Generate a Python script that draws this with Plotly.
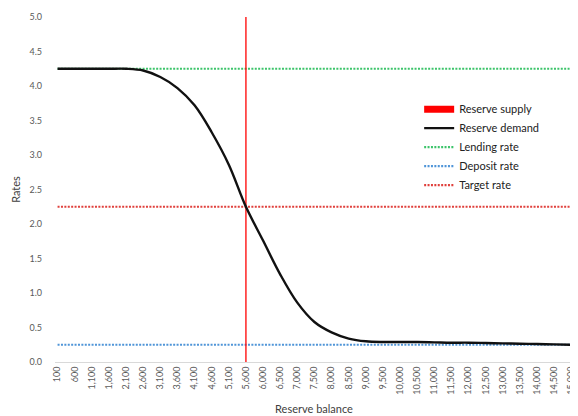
import plotly.graph_objects as go

# ---- data ----
balances = [100, 600, 1100, 1600, 2100, 2600, 3100, 3600, 4100, 4600, 5100, 5600,
            6000, 6500, 7000, 7500, 8000, 8500, 9000, 9500, 10000, 10500, 11000,
            11500, 12000, 12500, 13000, 13500, 14000, 14500, 15000]
demand = [4.25, 4.25, 4.25, 4.25, 4.25, 4.225, 4.13, 3.97, 3.72, 3.33, 2.86, 2.25,
          1.76, 1.27, 0.86, 0.58, 0.43, 0.34, 0.30, 0.29, 0.29, 0.29, 0.285,
          0.28, 0.28, 0.275, 0.27, 0.265, 0.26, 0.255, 0.25]
supply_balance = 5600
lending_rate = 4.25
deposit_rate = 0.25
target_rate = 2.25
rate_max = 5.0
y_ticks = [0.0, 0.5, 1.0, 1.5, 2.0, 2.5, 3.0, 3.5, 4.0, 4.5, 5.0]

cats = [f"{b:,}" for b in balances]
supply_cat = f"{supply_balance:,}"

FONT = "Lato"
TXT = "#404040"
TICK = "#595959"

fig = go.Figure()

dotdash = "2px,1.4px"
for name, val, col, rank in [("Lending rate", lending_rate, "#3cc46a", 3),
                             ("Deposit rate", deposit_rate, "#4f95d8", 4),
                             ("Target rate", target_rate, "#e0403c", 5)]:
    fig.add_trace(go.Scatter(x=[cats[0], cats[-1]], y=[val, val], mode="lines",
                             name=name, legendrank=rank,
                             line=dict(color=col, width=2.2, dash=dotdash)))

fig.add_trace(go.Scatter(x=[supply_cat, supply_cat], y=[0, rate_max], mode="lines",
                         name="Reserve supply", showlegend=False, legendgroup="s",
                         line=dict(color="#ff0000", width=1.3)))
fig.add_trace(go.Scatter(x=[None], y=[None], mode="lines", name="Reserve supply",
                         legendgroup="s", legendrank=1,
                         line=dict(color="#ff0000", width=7)))

fig.add_trace(go.Scatter(x=cats, y=demand, mode="lines", name="Reserve demand",
                         legendrank=2,
                         line=dict(color="#111111", width=2.4, shape="spline", smoothing=1.0)))

# page body has an 8px default margin, so the figure is sized 8px smaller
fig.update_layout(
    width=570, height=408,
    margin=dict(l=47, r=5, t=9, b=54),
    paper_bgcolor="white", plot_bgcolor="white",
    font=dict(family=FONT, color=TXT, size=11),
    legend=dict(x=0.703, y=0.775, xanchor="left", yanchor="top",
                bgcolor="rgba(0,0,0,0)", font=dict(size=11, color="#222222"),
                tracegroupgap=0, itemwidth=30),
    xaxis=dict(type="category", categoryorder="array", categoryarray=cats,
               range=[-0.15, len(cats) - 1 + 0.1], tickangle=-90,
               tickfont=dict(size=9, color=TICK, family=FONT),
               showgrid=False, zeroline=False, showline=True, automargin=False,
               linecolor="#d9d9d9", linewidth=1, ticks="",
               title=dict(text="Reserve balance", font=dict(size=11, color=TXT), standoff=11)),
    yaxis=dict(range=[0, rate_max], tickvals=y_ticks,
               ticktext=[f"{v:.1f}" for v in y_ticks],
               tickfont=dict(size=9, color=TICK, family=FONT),
               showgrid=False, zeroline=False, showline=False, ticks="",
               ticklabelstandoff=12, automargin=False,
               title=dict(text="Rates", font=dict(size=11, color=TXT), standoff=6)),
)

fig.write_html("out.html")
